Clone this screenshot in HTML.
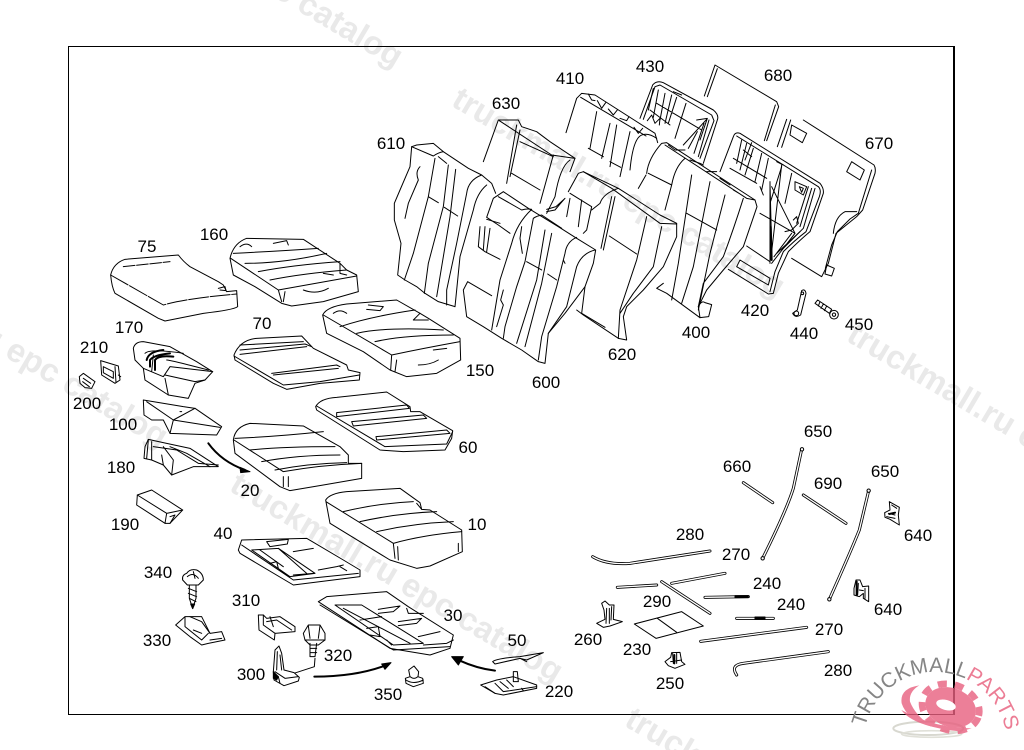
<!DOCTYPE html>
<html><head><meta charset="utf-8"><style>
html,body{margin:0;padding:0;background:#fff;width:1024px;height:750px;overflow:hidden}
#p{width:1024px;height:750px;overflow:hidden;position:relative}
svg{display:block}
.d path,.d polygon,.d ellipse,.d circle,.d rect{fill:none;stroke:#000;stroke-width:3;stroke-linejoin:round;stroke-linecap:round}
.d path.f,.d polygon.f,.d ellipse.f,.d circle.f{fill:#fff}
.d path.n,.d polygon.n{fill:#fff;stroke:none}
.d path.k{fill:#000}
.d path.t{stroke-width:6}
.r1{fill:none;stroke:#000;stroke-width:9;stroke-linecap:round;stroke-linejoin:round}
.r2{fill:none;stroke:#fff;stroke-width:4;stroke-linecap:round;stroke-linejoin:round}
.w{font:bold 33px "Liberation Sans",sans-serif;fill:#e9e9e9;mix-blend-mode:multiply}
.l{font:17px "Liberation Sans",sans-serif;fill:#000;text-anchor:middle}
</style></head><body><div id="p">
<svg width="1024" height="750" viewBox="0 0 1024 750" xmlns="http://www.w3.org/2000/svg">
<rect width="1024" height="750" fill="#fff"/>

<!-- frame -->
<path d="M68.5,46.5H954V714.5H68.5Z" fill="none" stroke="#000" stroke-width="1"/>
<path d="M954,46V715" stroke="#000" stroke-width="2"/>

<!-- 680 -->
<g class="d" transform="translate(370,50) scale(.33333)">
<path d="M1003,138 L1035,45 L1220,155 L1226,170 L1190,272"/>
<path d="M1012,140 L1042,56"/><path d="M1216,165 L1183,272"/>
</g>
<!-- 430, 410 -->
<g class="d" transform="translate(560,60) scale(.33333)">
<path class="n" d="M240,175 L278,75 Q290,60 310,68 L460,150 Q478,165 472,180 L430,310 L330,260Z"/>
<path d="M240,175 L278,75 Q290,60 310,68 L460,150 Q478,165 472,180 L430,310"/>
<path d="M250,178 L285,80 L300,75 L455,165 L462,182 L420,295"/>
<path d="M280,85 L265,150 M295,90 L280,172 M315,100 L300,180 M335,105 L315,190 M350,112 L325,190 M378,130 L345,235 M290,130 L425,210 M270,150 L330,195 M262,182 L275,165 L285,190 L300,175 L298,195 M410,180 L442,175 L420,240 M440,178 L370,255 M447,180 L415,290 M432,190 L402,280 M412,215 L385,265 M340,95 L365,105"/>
<path class="n" d="M18,218 L50,115 L65,100 L105,105 L285,220 L293,248 L240,370 L70,300Z"/>
<path d="M18,218 L50,115 L65,100 L105,105 L285,220 L293,248"/>
<path d="M62,112 L258,228 M85,102 L95,120 L105,122 M112,122 L125,145 L137,128 M145,147 L160,165 L172,150 M180,175 L200,182 L207,170 M222,202 L235,220 L248,205 M110,155 L90,265 M150,190 L125,295 M170,195 L150,320 M210,215 L180,350 M290,235 Q260,215 240,228 Q218,245 210,330 M85,265 L130,290 M150,305 L182,322"/>
</g>
<!-- 630 -->
<g class="d" transform="translate(370,50) scale(.33333)">
<path class="n" d="M385,210 L445,210 L455,230 L500,245 L540,275 L615,325 L590,370 L540,480 L400,410 L340,335 Z"/>
<path d="M340,335 L385,210 L445,210 L455,230 L500,245 L540,275 L615,325 L600,365"/>
<path d="M388,212 L545,315 Q580,320 615,325 M440,225 L410,400 M450,240 L420,380 M425,370 L510,420 M550,315 L510,460 M600,330 Q570,350 555,440 L530,490 M450,275 L550,320"/>
<path d="M530,478 L558,470 L585,445 L570,462 L555,480 L530,485"/>
</g>
<!-- 670, 420 -->
<g class="d" transform="translate(720,120) scale(.33333)">
<path class="n" d="M172,80 L200,0 L250,0 L462,135 L468,150 L428,270 L410,290 L345,340 L325,430 L305,470 L215,415 L100,300Z"/>
<path d="M172,80 L200,-2 M185,82 L212,0 M250,0 L462,135 Q468,145 465,160 L428,270 L410,290 L348,340 L325,430 L305,470 L215,415"/>
<path d="M455,150 L415,280 L390,297 L352,335 L335,375 L316,445 M340,340 Q345,290 375,275 L410,275"/>
<polygon points="215,15 260,40 247,68 210,45"/><polygon points="395,125 433,150 420,180 380,155"/>
<polygon points="320,435 343,445 335,468 315,462"/>
<path class="n" d="M0,155 L40,50 Q45,35 60,40 L300,190 Q312,205 310,220 L270,335 Q240,360 205,395 L175,460 L160,520 L145,522 L25,448 L-30,300Z"/>
<path d="M0,155 L40,50 Q45,35 60,40 L300,190 Q312,205 310,220 L270,335 Q240,360 205,395 L175,460 L160,520 L145,522 L25,448"/>
<path d="M50,48 L295,200 Q305,210 298,230 L258,335 Q225,360 190,395 L165,455 L150,515 M285,205 L250,325 Q225,350 185,390 M275,205 L240,320 M265,200 L230,310"/>
<path d="M65,60 L50,130 M80,70 L60,150 M100,85 L75,165 M125,100 L105,185 M145,115 L125,210 M185,140 L150,250 M215,160 L195,250 M40,115 L140,175 M30,145 L110,190 M95,68 L75,120 M70,90 L95,110 M120,200 L130,225 M170,125 L190,135"/>
<path d="M150,185 L150,430 M150,190 L156,420 M155,200 L225,340 M185,135 L152,420 M120,280 L225,340 M80,378 L150,425 M155,430 L225,340 M162,410 L215,340 M170,400 L240,335 M60,420 L150,475 L145,495 L50,440 Z M220,300 L230,290 L235,310 L215,330 L195,335"/>
<path d="M225,185 L260,200 L250,225 L225,210Z M238,200 L250,205 L245,217Z"/>
<path class="t" d="M152,320 L155,420"/>
</g>
<!-- 400, 620 -->
<g class="d" transform="translate(370,50) scale(.33333)">
<path class="n" d="M805,415 L830,370 L835,325 L875,280 L890,278 L1155,450 L1161,470 L1120,590 L1060,660 L1010,720 L985,770 L1030,800 L990,803 L890,730 L860,715 L800,560 Z"/>
<path d="M805,415 L828,375 M830,370 Q835,325 875,280 L890,278 L1155,450 L1161,470 L1120,590 L1060,660 L1010,720 L985,770 L990,803 M990,803 L890,730 L860,715 L880,700"/>
<path d="M835,370 L905,405 M945,325 Q915,350 905,405 L885,480 M885,285 L1130,445 L1155,450 M1120,445 Q1090,540 1060,620 L1000,700 L985,770 M965,375 L925,640 L905,750 M1020,395 L970,650 L935,760 M1065,435 L1020,610 L985,780 M950,490 L1040,540 M895,285 L915,300 L945,300 M960,330 L990,340 L1000,345 M1010,365 L1040,365 M1050,385 L1080,405 M1090,420 L1115,435"/>
<path d="M985,770 Q995,750 1005,758 L1025,764 L1016,800 L990,803"/>
<path class="n" d="M595,425 L625,370 L640,365 L745,415 L800,450 L870,495 L920,520 L920,560 L880,650 L820,720 L770,770 L760,800 L770,870 L745,865 L640,795 L620,780 L580,600 Z"/>
<path d="M595,425 L625,370 L640,365 L745,415 L800,450 L870,495 L920,520 L920,560 L880,650 L820,720 L770,770 L760,800 L770,870 L745,865 L640,795 L620,780"/>
<path d="M600,430 L665,470 L650,540 L640,550 M640,365 L725,415 L870,520 L920,522 M745,415 Q700,430 690,460 L665,480 M735,440 L700,600 M725,440 L693,595 M718,558 L800,612 M830,500 L800,630 L750,780 L745,865 M875,530 L850,650 L790,730 L750,790 M635,450 L625,530 M600,445 L590,500"/>
</g>
<!-- 610, 600 -->
<g class="d" transform="translate(385,130) scale(.33333)">
<path class="n" d="M95,45 L145,40 L175,65 L250,115 L290,135 L320,160 L332,190 L300,270 L275,320 L240,400 L215,480 L210,530 L160,515 L120,490 L95,470 L60,450 L38,435 L48,340 L28,270 L28,220 L45,180 L75,110 L80,50 Z"/>
<path d="M95,45 L145,40 L175,65 L250,115 L290,135 L320,160 L332,190 M210,530 L160,515 L120,490 L95,470 L60,450 L38,435 L48,340 L28,270 L28,220 L45,180 L75,110 L80,50 L95,45"/>
<path d="M80,50 L145,78 Q160,68 175,65 M150,85 L130,200 L85,370 L58,450 M190,105 L175,230 L130,400 L118,490 M212,118 L195,260 L155,500 M105,110 Q90,125 100,150 L70,220 L60,265 M130,200 L160,218 M178,232 L218,258 M160,80 L185,100 M290,135 Q250,150 245,190 L215,340 L185,480 L185,525 M305,165 Q275,190 265,240 L225,380 L210,530"/>
<path class="n" d="M355,185 L430,235 L520,290 L575,325 L632,360 L625,400 L600,470 L540,550 L490,610 L480,700 L460,695 L410,660 L350,625 L295,590 L245,560 L235,480 L248,455 L285,360 L305,260 L320,205 Z"/>
<path d="M355,185 L430,235 L520,290 L575,325 L632,360 L625,400 L600,470 L540,550 L490,610 L480,700 L460,695 L410,660 L350,625 L295,590 L245,560 L235,480 L248,455 L320,497 M355,185 L325,205 L305,262 L340,285 L375,310"/>
<path d="M340,200 L410,240 Q425,235 440,238 M440,238 Q395,280 380,340 L345,450 L320,600 M305,268 L345,280 M410,290 L405,325 L412,370 M445,265 L420,395 L395,470 L360,590 L355,625 M480,300 L455,450 L395,640 M500,310 L470,460 L420,650 M425,395 L470,420 M488,432 L515,450 M445,265 Q455,258 470,255 L530,295 M575,322 Q545,335 540,370 L515,470 L470,620 L460,690 M630,360 Q590,370 575,410 L545,530 L490,610 M355,480 L347,510 L355,525 L335,590 M285,290 L280,350 L300,365 L345,388 M300,290 L295,360 M315,295 L305,365 M535,390 L540,400"/>
<path d="M600,470 L590,550 L660,592"/>
</g>

<!-- seat cushions, left -->
<g class="d" transform="translate(70,220) scale(.33333)">
<!-- 75 -->
<path class="f" d="M122,165 Q130,130 165,118 L325,105 Q340,125 360,140 L445,185 L460,195 L470,215 L500,212 L503,260 Q490,270 400,280 L285,303 L265,295 L135,220 Q125,200 122,165 Z"/>
<path d="M122,165 L280,255 Q350,235 500,222" stroke-dasharray="60 5"/><path d="M160,140 L300,125" stroke-dasharray="35 5"/><path d="M445,205 L465,200 L468,212 L450,210"/>
<!-- 160 -->
<path class="f" d="M480,115 Q490,70 530,55 L700,58 L810,130 L830,150 L860,165 L865,215 L760,245 L665,258 L635,250 L555,200 L490,165 Z"/>
<path d="M490,100 Q600,95 745,85 M525,130 Q640,130 770,100 M565,155 Q670,135 810,125 M600,180 Q700,160 830,150 M482,115 L625,210 L860,168 M625,210 L635,245 M645,215 L640,245 M700,210 Q740,225 775,205 M510,80 Q530,65 545,80 M610,70 L650,62 L655,75 M760,160 L790,165 M810,130 L810,160 L830,165"/>
<!-- 150 -->
<path class="f" d="M758,285 Q770,260 830,252 L980,240 L1050,280 L1075,295 L1170,355 L1172,420 L1100,460 L1010,470 L960,450 L880,395 L770,340 Z"/>
<path d="M760,285 L965,405 Q1060,385 1170,365 M810,320 Q900,290 1035,270 M860,340 Q950,320 1120,330 M915,365 Q1000,345 1150,345 M965,405 L962,450 M980,420 L975,455 M1045,435 Q1080,435 1105,420 M790,280 Q810,265 830,280 M895,255 L940,260 L930,272 L890,268 M1050,280 L1030,300 L1075,300 M1090,390 L1130,385"/>
<!-- 70 -->
<path class="f" d="M492,405 Q510,360 560,355 L695,348 L730,385 L830,435 L835,450 L870,458 L868,480 L750,490 L650,508 L610,490 L495,420 Z"/>
<path d="M492,408 L640,495 L750,485 L868,465 M510,375 L700,365 M510,390 L705,372 L725,380 M510,403 L710,380 M605,460 L800,435 L810,440 M610,465 L805,445"/>
<!-- 60 -->
<path class="f" d="M737,560 Q750,535 800,532 L950,516 L1020,560 L1022,575 L1050,575 L1148,632 L1145,655 L1125,690 L1000,695 L930,690 L740,570 Z"/>
<path d="M740,558 L945,680 L1130,672 L1148,635 M800,578 L1010,555 L1018,565 L800,590 Z M845,605 L1060,585 L1070,595 L850,618 Z M918,650 L1130,630 L1140,640 L920,660 Z"/>
<!-- 20 -->
<path class="f" d="M490,660 Q495,620 540,610 L700,618 L810,680 L835,705 L835,730 L875,730 L875,775 L760,795 L660,812 L630,800 L495,700 Z"/>
<path d="M492,660 L640,755 Q750,735 875,730 M495,655 Q620,650 760,635 M540,690 Q640,680 795,680 M575,725 Q680,705 810,705 M615,750 Q720,730 830,728 M640,770 L640,800 M655,770 L655,800"/>
<!-- 170 -->
<path class="f" d="M190,385 Q195,365 220,365 L300,380 L380,425 L428,455 L405,480 L375,490 L355,535 L295,525 L225,480 L220,445 L195,420 Z"/>
<path d="M220,445 L280,470 L300,440 L428,455 M285,475 L295,525 M225,400 Q240,385 340,400 M290,420 Q300,420 415,450 M250,405 L245,455 M405,480 L375,485 L285,465"/>
<path class="t" d="M230,420 Q235,395 280,390 M240,440 L240,420 Q250,405 300,400 M255,450 L255,420 Q265,405 310,410"/>
<!-- 100 -->
<path class="f" d="M220,540 L340,560 L375,565 L455,620 L440,645 L300,640 L280,600 L245,600 L222,585 Z"/>
<path d="M230,545 L310,600 L375,565 M310,600 L300,640 M310,600 L450,622 M330,575 L335,575"/>
<!-- 180 -->
<path class="f" d="M235,658 L290,670 L360,685 L445,740 L370,740 L305,765 L280,735 L245,720 L222,715 L225,680 Z"/>
<path d="M235,660 L230,715 M245,665 L245,720 M250,680 L320,690 L385,730 L445,735 M280,680 L310,720 L305,765 M300,680 L350,700 L420,740 M275,705 L280,735"/>
<!-- 210 / 200 -->
<path d="M92,422 L145,438 L150,480 L135,490 L95,465 Z M100,440 L130,455 L130,475 L100,458 Z M135,440 L138,488 M145,465 L152,470"/>
<path d="M28,470 L40,460 L75,485 L65,505 L45,503 L30,490 Z M40,475 L62,490 M38,485 L58,500"/>
<!-- arrow -->
<path class="t" d="M415,670 Q455,725 525,750"/>
<path class="k" d="M510,742 L540,755 L512,758 Z"/>
</g>

<!-- lower left -->
<g class="d" transform="translate(130,480) scale(.33333)">
<!-- 10 -->
<path class="f" d="M587,60 Q600,40 650,35 L810,25 L870,68 L875,88 L900,90 L995,150 L997,215 L900,258 L860,265 L780,240 L600,130 Z"/>
<path d="M588,65 L790,190 Q880,165 995,155 M640,95 Q740,70 850,65 M690,125 Q800,100 920,95 M740,155 Q850,130 970,125 M790,190 L795,235 M803,200 L805,240 M875,88 L860,70 M985,190 L985,215"/>
<!-- 190 -->
<path class="f" d="M22,45 L65,30 L158,90 L120,130 L105,130 L20,75 Z"/>
<path d="M22,45 L110,100 L158,90 M110,100 L105,130 M120,110 L135,105 L120,130"/>
<!-- 40 -->
<path class="f" d="M325,210 L335,180 L530,175 L640,240 L690,270 L690,290 L490,315 L330,220 Z"/>
<path d="M335,195 L490,300 L685,280 M410,185 L475,178 L472,192 L420,200 Z M365,210 L445,205 L555,280 L480,290 Z M390,210 L460,260 M445,205 L530,280 M420,250 L440,245 L445,265 M490,215 L550,205 M565,270 L620,260 L640,255 M490,285 L550,280 M630,260 L650,272"/>
<!-- 30 -->
<path class="f" d="M565,365 L590,350 L770,335 L835,380 L970,465 L960,505 L900,525 L780,505 Z"/>
<path d="M570,375 L790,510 L960,500 M615,375 L695,375 L880,490 L790,495 Z M640,385 L840,490 M690,420 L755,410 M745,388 L810,378 L790,395 L745,400 M805,425 L875,415 L860,430 L805,437 M865,470 L930,455 M830,385 L835,400 L880,400 M710,445 L745,440 L750,470 L720,465 M880,495 L950,490 L970,480 M770,480 L785,495"/>
<!-- 340 -->
<path class="f" d="M158,300 Q155,285 170,280 Q180,265 200,270 Q220,280 220,300 L205,315 L172,315 Z"/>
<path d="M172,290 Q190,275 205,295 M190,275 L195,295 M178,315 L178,355 L188,385 L198,355 L198,315 M175,325 L200,335 M175,340 L200,350 M178,355 L198,365"/>
<path class="k" d="M182,372 L194,372 L188,386 Z"/>
<!-- 330 -->
<path class="f" d="M137,435 L165,410 L215,410 L240,460 L275,455 L285,480 L235,490 L215,495 L180,470 Z"/>
<path d="M165,412 L165,440 L215,480 L235,460 M180,410 L215,425 L240,460 M190,450 L215,460 M240,480 L275,475"/>
<!-- 310 -->
<path class="f" d="M385,405 L400,405 L410,415 L450,410 L495,440 L495,455 L435,460 L433,480 L387,450 Z"/>
<path d="M400,405 L400,435 L435,460 M410,425 L440,420 L485,450 M420,410 L430,440"/>
<!-- 320 -->
<path class="f" d="M520,460 L535,435 L570,435 L585,460 L585,480 L525,480 Z"/>
<path d="M535,437 L540,475 M570,437 L565,475 M540,490 L540,530 L555,530 L560,490 M525,480 L540,495 L565,495 L585,480 M540,505 L560,505 M540,518 L560,518 M555,535 L553,560 L492,580"/>
<!-- 300 -->
<path class="f" d="M435,510 L447,498 L455,520 L462,570 L492,578 L508,592 L505,603 L462,617 L432,600 L430,575 Z"/>
<path d="M442,515 L440,570 M450,525 L455,570 M435,575 L465,595 L505,590 M445,590 L450,610"/>
<path class="k" d="M430,575 L445,590 L440,600 L430,595 Z"/>
<!-- arrows -->
<path class="t" d="M553,590 Q680,590 770,555"/><path class="k" d="M755,552 L783,548 L765,568 Z"/>
<path class="t" d="M1095,572 Q1040,565 990,542"/><path class="k" d="M965,530 L1000,530 L985,555 Z"/>
<!-- 350 -->
<path class="f" d="M836,570 L852,558 L866,575 L864,590 L878,595 L880,610 L850,620 L828,610 L826,595 L840,590 Z"/>
<path d="M828,600 Q850,615 880,600 M840,590 Q852,600 864,590"/>
<!-- 50 -->
<path d="M1088,545 Q1100,535 1170,530 L1240,518 L1190,540 L1170,535 L1095,552 Z M1170,535 L1190,545"/>
<!-- 220 -->
<path class="f" d="M1052,615 L1100,600 L1150,590 L1220,615 L1220,625 L1120,645 L1095,640 Z"/>
<path d="M1150,575 L1162,575 L1165,605 L1150,605 Z M1095,610 L1120,635 L1220,620 M1065,620 L1095,640 M1110,605 L1135,625 M1130,600 L1150,620 M1175,625 L1180,632"/>
</g>

<!-- right lower parts -->
<g transform="translate(580,420) scale(.33333)">
<g class="r1">
<path d="M665,88 L640,205 Q620,270 548,415"/><path d="M866,212 L838,330 Q810,400 748,538"/>
<path d="M490,188 L578,248"/><path d="M670,225 L798,310"/>
<path d="M38,410 Q80,435 150,430 L390,393"/>
<path d="M112,502 L230,495"/><path d="M275,490 L435,460"/>
<path d="M245,485 L390,580"/><path d="M375,532 L505,530"/><path d="M470,595 L580,595"/>
<path d="M362,664 L680,622"/><path d="M470,765 Q450,735 490,730 L745,695"/>
</g>
<g class="r2">
<path d="M665,88 L640,205 Q620,270 548,415"/><path d="M866,212 L838,330 Q810,400 748,538"/>
<path d="M490,188 L578,248"/><path d="M670,225 L798,310"/>
<path d="M38,410 Q80,435 150,430 L390,393"/>
<path d="M112,502 L230,495"/><path d="M275,490 L435,460"/>
<path d="M245,485 L390,580"/><path d="M375,532 L505,530"/><path d="M470,595 L580,595"/>
<path d="M362,664 L680,622"/><path d="M470,765 Q450,735 490,730 L745,695"/>
</g>
</g>
<g class="d" transform="translate(580,420) scale(.33333)">
<circle class="f" cx="666" cy="88" r="5"/><circle class="f" cx="548" cy="415" r="5"/><circle class="f" cx="866" cy="212" r="5"/><circle class="f" cx="748" cy="538" r="5"/>
<path class="k" d="M465,527 L505,527 L505,533 L465,533 Z M525,591 L555,591 L555,598 L525,598 Z"/>
<polygon points="163,612 305,575 370,618 228,655"/><path d="M232,595 L290,637"/>
<!-- 260 -->
<path d="M50,610 L75,598 L72,570 L65,550 L75,543 L88,555 L102,555 L100,598 L127,605 L90,618 L70,622 Z M80,565 L78,610 M88,565 L88,610 M95,560 L93,600"/>
<!-- 250 -->
<path d="M255,725 L272,712 L275,698 L300,697 L305,725 L315,733 L285,745 L265,737 Z M278,700 L280,730 M290,700 L290,730 M272,725 L305,720"/>
<path class="t" d="M283,705 L283,730"/>
<!-- 640 upper -->
<path d="M928,245 L958,262 L955,285 L958,315 L930,298 L915,292 L914,278 L930,270 Z M935,255 L950,265 M925,280 L945,285 M920,290 L945,295"/>
<path class="t" d="M928,282 L945,278"/>
<!-- 640 lower -->
<path d="M828,480 L840,480 L848,500 L866,498 L866,545 L850,535 L850,520 L838,530 L822,525 L822,505 Z M835,490 L833,525 M855,505 L855,535 M838,510 L850,512"/>
<path class="t" d="M830,485 L830,525"/>
</g>

<!-- bolt 440 / 450 -->
<g class="d" transform="translate(370,50) scale(.33333)">
<path d="M1282,780 L1295,722 Q1305,715 1308,730 L1292,795 Q1275,805 1268,790 Z"/>
<circle cx="1279" cy="790" r="7"/><circle cx="1297" cy="730" r="4"/>
<path d="M1335,760 L1343,750 L1385,778 L1378,790 Z M1350,755 L1345,768 M1360,762 L1353,775 M1370,768 L1363,782"/>
<circle cx="1392" cy="794" r="13" class="f"/><circle cx="1392" cy="794" r="5"/>
</g>

<!-- labels -->
<g class="l">
<text x="391" y="149">610</text><text x="506" y="109">630</text><text x="570" y="84">410</text><text x="650" y="72">430</text>
<text x="778" y="81">680</text><text x="879" y="149">670</text><text x="147" y="252">75</text><text x="214" y="240">160</text>
<text x="129" y="333">170</text><text x="94" y="353">210</text><text x="87" y="409">200</text><text x="123" y="430">100</text>
<text x="121" y="473">180</text><text x="125" y="530">190</text><text x="262" y="329">70</text><text x="480" y="376">150</text>
<text x="468" y="453">60</text><text x="250" y="496">20</text><text x="477" y="530">10</text><text x="223" y="539">40</text>
<text x="158" y="578">340</text><text x="246" y="606">310</text><text x="157" y="646">330</text><text x="338" y="661">320</text>
<text x="251" y="680">300</text><text x="388" y="700">350</text><text x="453" y="621">30</text><text x="517" y="646">50</text>
<text x="559" y="697">220</text><text x="546" y="388">600</text><text x="622" y="360">620</text><text x="696" y="338">400</text>
<text x="755" y="316">420</text><text x="804" y="339">440</text><text x="859" y="330">450</text><text x="818" y="437">650</text>
<text x="737" y="472">660</text><text x="828" y="489">690</text><text x="885" y="477">650</text><text x="918" y="541">640</text>
<text x="690" y="540">280</text><text x="736" y="560">270</text><text x="767" y="589">240</text><text x="791" y="610">240</text>
<text x="657" y="607">290</text><text x="888" y="615">640</text><text x="829" y="635">270</text><text x="588" y="645">260</text>
<text x="637" y="655">230</text><text x="670" y="689">250</text><text x="838" y="676">280</text>
</g>

<!-- watermarks over the drawing -->
<g>
<text class="w" transform="translate(68,-125) rotate(30.6)">truckmall.ru epc catalog</text>
<text class="w" transform="translate(450,105) rotate(30.6)">truckmall.ru epc catalog</text>
<text class="w" transform="translate(845,340) rotate(30.6)">truckmall.ru epc catalog</text>
<text class="w" transform="translate(-167,255) rotate(30.6)">truckmall.ru epc catalog</text>
<text class="w" transform="translate(228,490) rotate(30.6)">truckmall.ru epc catalog</text>
<text class="w" transform="translate(623,725) rotate(30.6)">truck</text>
</g>

<!-- logo over frame -->
<g transform="translate(860,660) scale(.33333)">
<ellipse cx="205" cy="205" rx="105" ry="20" fill="none" stroke="#d8d8d0" stroke-width="6"/>
<ellipse cx="215" cy="222" rx="90" ry="10" fill="none" stroke="#e0e0d8" stroke-width="5"/>
<g opacity=".8" fill="#e8607f">
<ellipse cx="272" cy="142" rx="78" ry="58" transform="rotate(20 272 142)"/>
<ellipse cx="272" cy="142" rx="88" ry="68" transform="rotate(20 272 142)" fill="none" stroke="#e8607f" stroke-width="20" stroke-dasharray="27 24"/>
<path d="M178,76 Q118,85 125,130 Q140,178 215,200 Q165,165 150,125 Q146,95 178,76Z"/>
<path d="M124,150 Q160,200 300,214 L335,205 Q225,205 124,150Z"/>
</g>
<ellipse cx="258" cy="135" rx="30" ry="15" transform="rotate(15 258 135)" fill="#fff"/>
</g>
<defs><path id="arc" d="M863,743 A72,72 0 1 1 1000,775"/></defs>
<text font-family="Liberation Sans,sans-serif" font-size="21"><textPath href="#arc" startOffset="16"><tspan fill="#858585">TRUCKMALL</tspan><tspan fill="#ec7d95">PARTS</tspan></textPath></text>
</svg>
</div></body></html>
